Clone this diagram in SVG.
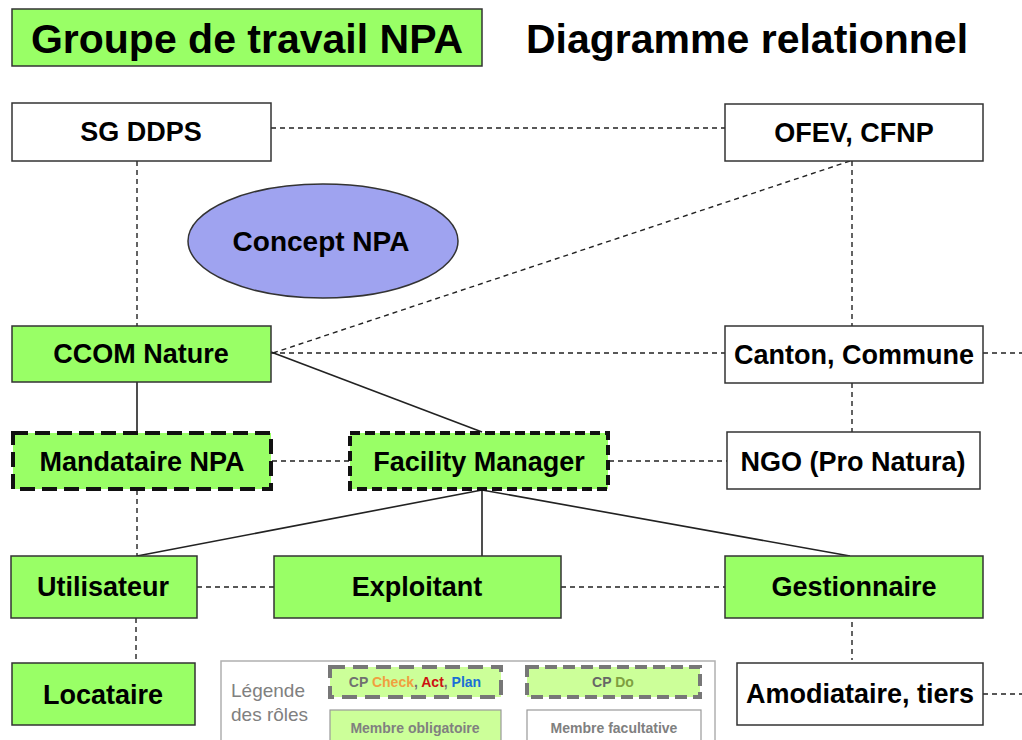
<svg xmlns="http://www.w3.org/2000/svg" width="1022" height="740" viewBox="0 0 1022 740">
<style>
.bg{fill:#ffffff}
.box{stroke:#333333;stroke-width:1.5}
.g{fill:#99ff66}
.w{fill:#ffffff}
.cp{stroke:#111111;stroke-width:4;stroke-dasharray:15 7}
.lbl{font-family:"Liberation Sans",Arial,sans-serif;font-weight:bold;font-size:27px;fill:#000;text-anchor:middle}
.title{font-family:"Liberation Sans",Arial,sans-serif;font-weight:bold;font-size:41px;fill:#000}
.dash{stroke:#222222;stroke-width:1.4;stroke-dasharray:5 4;fill:none}
.solid{stroke:#222222;stroke-width:1.6;fill:none}
.lg{font-family:"Liberation Sans",Arial,sans-serif;font-size:19px;fill:#808080}
.lgb{font-family:"Liberation Sans",Arial,sans-serif;font-weight:bold;font-size:14px;text-anchor:middle}
.lcp{stroke:#777777;stroke-width:4;stroke-dasharray:15 8;fill:#ccff99}
</style>
<rect class="bg" x="0" y="0" width="1022" height="740"/>

<g id="connectors">
  <line class="dash" x1="271" y1="128" x2="725" y2="128"/>
  <line class="dash" x1="137" y1="161" x2="137" y2="326"/>
  <line class="dash" x1="852" y1="161" x2="852" y2="326"/>
  <line class="dash" x1="273" y1="353" x2="850" y2="161"/>
  <line class="dash" x1="271" y1="353" x2="725" y2="353"/>
  <line class="dash" x1="983" y1="353" x2="1022" y2="353"/>
  <line class="dash" x1="852" y1="383" x2="852" y2="432"/>
  <line class="solid" x1="137" y1="382" x2="137" y2="432"/>
  <line class="solid" x1="271" y1="352" x2="482" y2="432"/>
  <line class="dash" x1="272" y1="461" x2="349" y2="461"/>
  <line class="dash" x1="609" y1="461" x2="727" y2="461"/>
  <line class="dash" x1="137" y1="490" x2="137" y2="556"/>
  <line class="solid" x1="482" y1="490" x2="137" y2="556"/>
  <line class="solid" x1="482" y1="490" x2="482" y2="556"/>
  <line class="solid" x1="482" y1="490" x2="850" y2="556"/>
  <line class="dash" x1="197" y1="587" x2="274" y2="587"/>
  <line class="dash" x1="561" y1="587" x2="725" y2="587"/>
  <line class="dash" x1="136" y1="618" x2="136" y2="663"/>
  <line class="dash" x1="852" y1="622" x2="852" y2="660"/>
  <line class="dash" x1="983" y1="694" x2="1022" y2="694"/>
</g>

<g id="title">
  <rect class="box g" x="12" y="9" width="470" height="57"/>
  <text class="title" x="247" y="53" text-anchor="middle">Groupe de travail NPA</text>
</g>
<g id="subtitle">
  <text class="title" x="526" y="53">Diagramme relationnel</text>
</g>

<g id="sg-ddps">
  <rect class="box w" x="12" y="103" width="259" height="58"/>
  <text class="lbl" x="141" y="141">SG DDPS</text>
</g>
<g id="ofev-cfnp">
  <rect class="box w" x="725" y="104" width="258" height="57"/>
  <text class="lbl" x="854" y="142">OFEV, CFNP</text>
</g>
<g id="concept-npa">
  <ellipse cx="323" cy="241" rx="135" ry="57" fill="#9fa3f0" stroke="#333333" stroke-width="1.5"/>
  <text class="lbl" x="321" y="251" style="font-size:28px">Concept NPA</text>
</g>
<g id="ccom-nature">
  <rect class="box g" x="12" y="326" width="259" height="56"/>
  <text class="lbl" x="141" y="363">CCOM Nature</text>
</g>
<g id="canton-commune">
  <rect class="box w" x="725" y="326" width="258" height="57"/>
  <text class="lbl" x="854" y="364">Canton, Commune</text>
</g>
<g id="mandataire-npa">
  <rect class="g cp" x="13" y="433" width="258" height="56"/>
  <text class="lbl" x="142" y="471">Mandataire NPA</text>
</g>
<g id="facility-manager">
  <rect class="g cp" x="350" y="433" width="258" height="56" style="stroke-dasharray:10 5"/>
  <text class="lbl" x="479" y="471">Facility Manager</text>
</g>
<g id="ngo">
  <rect class="box w" x="727" y="432" width="253" height="57"/>
  <text class="lbl" x="853" y="471">NGO (Pro Natura)</text>
</g>
<g id="utilisateur">
  <rect class="box g" x="11" y="556" width="186" height="62"/>
  <text class="lbl" x="103" y="596">Utilisateur</text>
</g>
<g id="exploitant">
  <rect class="box g" x="274" y="556" width="287" height="62"/>
  <text class="lbl" x="417" y="596">Exploitant</text>
</g>
<g id="gestionnaire">
  <rect class="box g" x="725" y="556" width="258" height="62"/>
  <text class="lbl" x="854" y="596">Gestionnaire</text>
</g>
<g id="locataire">
  <rect class="box g" x="12" y="663" width="183" height="62"/>
  <text class="lbl" x="103" y="704">Locataire</text>
</g>
<g id="amodiataire">
  <rect class="box w" x="737" y="663" width="246" height="62"/>
  <text class="lbl" x="860" y="703">Amodiataire, tiers</text>
</g>

<g id="legend">
  <rect x="221" y="661" width="494" height="90" fill="#ffffff" stroke="#b0b0b0" stroke-width="1.5"/>
  <text class="lg" x="231" y="697">Légende</text>
  <text class="lg" x="231" y="721">des rôles</text>
  <rect class="lcp" x="330" y="667" width="171" height="30"/>
  <text class="lgb" x="415" y="687"><tspan fill="#707070">CP </tspan><tspan fill="#f0a040">Check</tspan><tspan fill="#707070">, </tspan><tspan fill="#cc1111">Act</tspan><tspan fill="#707070">, </tspan><tspan fill="#1a6fd6">Plan</tspan></text>
  <rect class="lcp" x="527" y="667" width="173" height="30" style="stroke-dasharray:12 6"/>
  <text class="lgb" x="613" y="687"><tspan fill="#666666">CP </tspan><tspan fill="#7f9f40">Do</tspan></text>
  <rect x="330" y="710" width="171" height="40" fill="#ccff99" stroke="#999999" stroke-width="1.2"/>
  <text class="lgb" x="415" y="733" fill="#808080">Membre obligatoire</text>
  <rect x="527" y="710" width="174" height="40" fill="#ffffff" stroke="#999999" stroke-width="1.2"/>
  <text class="lgb" x="614" y="733" fill="#808080">Membre facultative</text>
</g>
</svg>
